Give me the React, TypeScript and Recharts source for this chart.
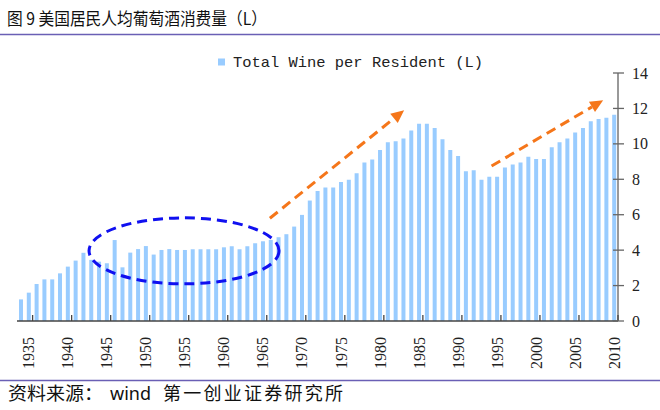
import React from 'react';
import { BarChart, Bar, XAxis, YAxis } from 'recharts';

const years = [
  1934, 1935, 1936, 1937, 1938, 1939, 1940, 1941, 1942, 1943,
  1944, 1945, 1946, 1947, 1948, 1949, 1950, 1951, 1952, 1953,
  1954, 1955, 1956, 1957, 1958, 1959, 1960, 1961, 1962, 1963,
  1964, 1965, 1966, 1967, 1968, 1969, 1970, 1971, 1972, 1973,
  1974, 1975, 1976, 1977, 1978, 1979, 1980, 1981, 1982, 1983,
  1984, 1985, 1986, 1987, 1988, 1989, 1990, 1991, 1992, 1993,
  1994, 1995, 1996, 1997, 1998, 1999, 2000, 2001, 2002, 2003,
  2004, 2005, 2006, 2007, 2008, 2009, 2010,
];

const winePerResident = [
  1.22, 1.6, 2.09, 2.35, 2.35, 2.69, 3.07, 3.41, 3.85, 3.45,
  3.35, 3.26, 4.57, 3.03, 3.86, 4.06, 4.23, 3.75, 4.01, 4.06,
  4.01, 4.01, 4.05, 4.05, 4.05, 4.05, 4.16, 4.22, 4.05, 4.22,
  4.39, 4.5, 4.58, 4.73, 4.9, 5.33, 5.99, 6.8, 7.34, 7.53,
  7.53, 7.85, 7.97, 8.34, 8.95, 9.11, 9.66, 10.09, 10.15, 10.3,
  10.75, 11.13, 11.13, 10.9, 10.26, 9.66, 9.32, 8.46, 8.51, 7.97,
  8.14, 8.14, 8.66, 8.83, 8.95, 9.27, 9.15, 9.15, 9.81, 10.09,
  10.3, 10.64, 10.9, 11.28, 11.41, 11.47, 11.64,
];

const xLabelYears = [1935, 1940, 1945, 1950, 1955, 1960, 1965, 1970, 1975, 1980, 1985, 1990, 1995, 2000, 2005, 2010];
const yTicks = [0, 2, 4, 6, 8, 10, 12, 14];

const titleText = '图 9 美国居民人均葡萄酒消费量（L）';
const seriesName = 'Total Wine per Resident (L)';
const sourceLabel = '资料来源：';
const sourceWind = 'wind';
const sourceOrg = '第一创业证券研究所';

// annotation anchors in data coordinates (year, value)
const ellipseCenter = { year: 1954.9, value: 3.96 };
const arrow1 = { from: { year: 1965.9, value: 5.8 }, to: { year: 1983.1, value: 11.9 } };
const arrow2 = { from: { year: 1994.3, value: 8.75 }, to: { year: 2008.6, value: 12.46 } };

const W = 660;
const H = 410;
const PLOT_L = 17;
const PLOT_R = 618;
const PLOT_T = 73;
const PLOT_B = 321;
const Y_MAX = 14;
const BAND = (PLOT_R - PLOT_L) / years.length;

const data = years.map((y, i) => ({ year: y, value: winePerResident[i] }));

const xOf = (yr: number) => PLOT_L + (yr - years[0] + 0.5) * BAND;
const yOf = (v: number) => PLOT_B - (v * (PLOT_B - PLOT_T)) / Y_MAX;

const XTick = (props: any) => {
  const { x, payload } = props;
  const yr = Number(payload.value);
  if (!xLabelYears.includes(yr)) return <g />;
  const tx = x + BAND / 2;
  const ly = 337;
  return (
    <g>
      <line x1={tx} x2={tx} y1={PLOT_B} y2={PLOT_B - 6} stroke="#444" strokeWidth={1.3} />
      <text
        x={x}
        y={ly}
        dy="0.35em"
        textAnchor="end"
        transform={`rotate(-90 ${x} ${ly})`}
        fontFamily="'Liberation Serif', 'Times New Roman', serif"
        fontSize={16}
        fill="#222"
      >
        {yr}
      </text>
    </g>
  );
};

const YTick = (props: any) => {
  const { y, payload } = props;
  return (
    <g>
      <line x1={PLOT_R - 5} x2={PLOT_R + 6} y1={y} y2={y} stroke="#666" strokeWidth={1.3} />
      <text
        x={PLOT_R + 14}
        y={y}
        dy="0.35em"
        textAnchor="start"
        fontFamily="'Liberation Serif', 'Times New Roman', serif"
        fontSize={16}
        fill="#222"
      >
        {payload.value}
      </text>
    </g>
  );
};

const Arrow = ({ from, to }: { from: { year: number; value: number }; to: { year: number; value: number } }) => {
  const x1 = xOf(from.year);
  const y1 = yOf(from.value);
  const x2 = xOf(to.year);
  const y2 = yOf(to.value);
  const ang = Math.atan2(y2 - y1, x2 - x1);
  const headL = 13;
  const headW = 6;
  const bx = x2 - headL * Math.cos(ang);
  const by = y2 - headL * Math.sin(ang);
  const px = -Math.sin(ang) * headW;
  const py = Math.cos(ang) * headW;
  return (
    <g>
      <line x1={x1} y1={y1} x2={bx} y2={by} stroke="#f5761a" strokeWidth={3} strokeDasharray="10 6" />
      <polygon points={`${x2},${y2} ${bx + px},${by + py} ${bx - px},${by - py}`} fill="#f5761a" />
    </g>
  );
};

export default function App() {
  return (
    <div style={{ position: 'absolute', left: 0, top: 0, width: W, height: H, background: '#fff' }}>
      <BarChart
        width={W}
        height={H}
        data={data}
        margin={{ top: PLOT_T, right: 0, left: PLOT_L, bottom: H - PLOT_B - 60 }}
        barCategoryGap={0}
      >
        <XAxis
          dataKey="year"
          interval={0}
          tickLine={false}
          axisLine={{ stroke: '#444', strokeWidth: 1.5 }}
          height={60}
          tick={XTick}
        />
        <YAxis
          orientation="right"
          type="number"
          domain={[0, Y_MAX]}
          ticks={yTicks}
          width={W - PLOT_R}
          tickLine={false}
          tickSize={0}
          tickMargin={0}
          axisLine={{ stroke: '#777', strokeWidth: 1.5 }}
          tick={YTick}
        />
        <Bar dataKey="value" name={seriesName} fill="#99ccff" barSize={4} isAnimationActive={false} />
      </BarChart>
      <svg
        width={W}
        height={H}
        style={{ position: 'absolute', left: 0, top: 0, pointerEvents: 'none' }}
      >
        <text
          x={7}
          y={25}
          fontFamily="'Noto Sans CJK SC', sans-serif"
          fontSize={17}
          fill="#111"
          textLength={260}
          lengthAdjust="spacingAndGlyphs"
        >
          {titleText}
        </text>
        <line x1={0} x2={W} y1={34.5} y2={34.5} stroke="#6a5fb5" strokeWidth={1.5} />
        <rect x={218} y={58.5} width={7} height={7} fill="#99ccff" />
        <text
          x={233}
          y={67}
          fontFamily="'Liberation Mono', 'DejaVu Sans Mono', monospace"
          fontSize={15}
          fill="#222"
          textLength={250}
          lengthAdjust="spacingAndGlyphs"
        >
          {seriesName}
        </text>
        <ellipse
          cx={xOf(ellipseCenter.year)}
          cy={yOf(ellipseCenter.value)}
          rx={95}
          ry={33}
          fill="none"
          stroke="#1010f0"
          strokeWidth={3}
          strokeDasharray="10 6"
        />
        <Arrow from={arrow1.from} to={arrow1.to} />
        <Arrow from={arrow2.from} to={arrow2.to} />
        <line x1={0} x2={W} y1={380.5} y2={380.5} stroke="#6a5fb5" strokeWidth={1.5} />
        <g fontFamily="'Noto Sans CJK SC', sans-serif" fontSize={18} fill="#111">
          <text x={8} y={400} textLength={95} lengthAdjust="spacingAndGlyphs">{sourceLabel}</text>
          <text x={110} y={400} fontFamily="'Noto Sans', sans-serif">{sourceWind}</text>
          <text x={163} y={400} textLength={180} lengthAdjust="spacing">{sourceOrg}</text>
        </g>
      </svg>
    </div>
  );
}
